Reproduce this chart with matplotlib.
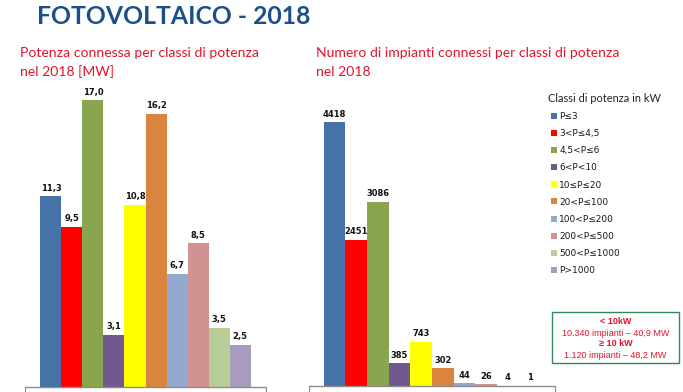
import matplotlib
matplotlib.use("Agg")
import matplotlib.pyplot as plt
from matplotlib.patches import Rectangle, Patch

# dati
classi = ["P≤3", "3<P≤4,5", "4,5<P≤6", "6<P<10", "10≤P≤20", "20<P≤100",
          "100<P≤200", "200<P≤500", "500<P≤1000", "P>1000"]
potenza_mw = [11.3, 9.5, 17.0, 3.1, 10.8, 16.2, 6.7, 8.5, 3.5, 2.5]
num_impianti = [4418, 2451, 3086, 385, 743, 302, 44, 26, 4, 1]
colori = ["#4572A7", "#FF0000", "#89A54E", "#71588F", "#FFFF00", "#DB843D",
          "#93A9CF", "#D19392", "#B9CD96", "#A99BBD"]
nota = ["< 10kW", "10.340 impianti – 40,9 MW", "≥ 10 kW", "1.120 impianti – 48,2 MW"]

W, H = 683, 392
fig = plt.figure(figsize=(W / 100, H / 100), dpi=100)
fig.patch.set_facecolor("white")

RED = "#E2142D"
fig.text(37 / W, 1 - 16 / H, "FOTOVOLTAICO - 2018", fontsize=17.8, fontweight="bold",
         family="Lato", color="#1B4F8A", va="center", ha="left")
fig.text(20 / W, 1 - 53 / H, "Potenza connessa per classi di potenza", fontsize=10.1,
         family="Lato", color=RED, va="center")
fig.text(20 / W, 1 - 72 / H, "nel 2018 [MW]", fontsize=10.1, family="Lato",
         color=RED, va="center")
fig.text(316 / W, 1 - 53 / H, "Numero di impianti connessi per classi di potenza",
         fontsize=10.1, family="Lato", color=RED, va="center")
fig.text(316 / W, 1 - 72 / H, "nel 2018", fontsize=10.1, family="Lato",
         color=RED, va="center")


def pannello(x0, x1, base, top_px, scala, valori, gap, fmt):
    # axes che scende sotto il bordo della figura, zero sulla riga di base
    ax = fig.add_axes([x0 / W, 0, (x1 - x0) / W, (H - top_px) / H])
    h_px = H - top_px
    below = H - base
    ax.set_ylim(-below / scala, (h_px - below) / scala)
    ax.set_xlim(-0.5 - gap, len(valori) - 0.5 + gap)
    bars = ax.bar(range(len(valori)), valori, width=1.0, color=colori)
    for i, v in enumerate(valori):
        ax.annotate(fmt(v), (i, v), xytext=(0, 2.5), textcoords="offset points",
                    ha="center", va="bottom", fontsize=6, fontweight="bold",
                    color="#111111", annotation_clip=False)
    ax.axhline(0, color="#8C8C8C", lw=1)
    for s in ["top", "bottom"]:
        ax.spines[s].set_visible(False)
    for s in ["left", "right"]:
        ax.spines[s].set_color("#8C8C8C")
        ax.spines[s].set_bounds(-below / scala, 0)
    ax.set_xticks([])
    ax.set_yticks([])
    ax.patch.set_alpha(0)
    return ax, bars


ax1, b1 = pannello(25, 266, 387, 88, 287 / 17.0, potenza_mw, 0.738,
                   lambda v: f"{v:.1f}".replace(".", ","))
ax2, b2 = pannello(309, 555, 386, 88, 263.7 / 4418, num_impianti, 0.676,
                   lambda v: f"{v}")

handles = [Patch(facecolor=c, edgecolor="none") for c in colori]
leg = fig.legend(handles, classi, loc="upper left",
                 bbox_to_anchor=(551 / W, 1 - 112 / H), frameon=False,
                 prop={"size": 6.5, "family": "DejaVu Sans"},
                 handlelength=0.65, handleheight=0.65, handletextpad=0.25,
                 labelspacing=0.9, borderaxespad=0, borderpad=0)
for t in leg.get_texts():
    t.set_color("#1a1a1a")
fig.text(548 / W, 1 - 99 / H, "Classi di potenza in kW", fontsize=7.9,
         family="Lato", color="#222222", va="center", ha="left")

fig.add_artist(Rectangle((552 / W, 1 - 363 / H), 127 / W, 51 / H,
                         transform=fig.transFigure, facecolor="white",
                         edgecolor="#2E8B57", lw=1))
ys = [321, 333, 344, 356]
for t, y in zip(nota, ys):
    fig.text(615.5 / W, 1 - y / H, t, fontsize=6.5, family="Liberation Sans",
             fontweight="bold" if t.startswith(("<", "≥")) else "normal",
             color=RED, ha="center", va="center")

fig.savefig("out.png", dpi=100)
